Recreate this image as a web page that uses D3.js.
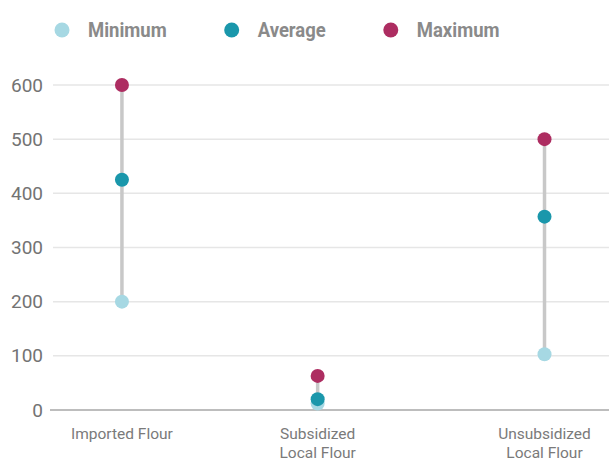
<!DOCTYPE html>
<meta charset="utf-8">
<script src="https://d3js.org/d3.v7.min.js"></script>
<style>
body { margin: 0; background: #fff; }
svg text { font-family: Roboto, "Noto Sans", sans-serif; }
.axis .domain, .axis line { display: none; }
</style>
<body>
<div id="canvas"></div>
<script>

// data -------------------------------------------------
var categories = ["Imported Flour", "Subsidized\nLocal Flour", "Unsubsidized\nLocal Flour"];
var minimum = [200, 12, 103];
var average = [425, 20, 357];
var maximum = [600, 63, 500];
var yTicks = [0, 100, 200, 300, 400, 500, 600];
var seriesNames = ["Minimum", "Average", "Maximum"];
var seriesColors = ["#a6d8e3", "#1a97ab", "#ad2d61"];

var width = 609, height = 462;
var margin = {top: 85, right: 0, bottom: 52, left: 53};
var w = width - margin.left - margin.right;
var h = height - margin.top - margin.bottom;

var svg = d3.select("#canvas").append("svg")
    .attr("width", width)
    .attr("height", height);

var g = svg.append("g")
    .attr("transform", "translate(" + margin.left + "," + margin.top + ")");

// scales
var y = d3.scaleLinear().domain([0, 600]).range([h, 0]);
// the category columns are not evenly spaced in the original
var x = d3.scaleOrdinal()
    .domain(categories)
    .range([0.124, 0.476, 0.884].map(function(f) { return f * w; }));
var color = d3.scaleOrdinal().domain(seriesNames).range(seriesColors);

// grid lines
g.selectAll(".grid")
    .data(yTicks.filter(function(d) { return d > 0; }))
    .enter().append("line")
    .attr("x1", 0).attr("x2", w)
    .attr("y1", function(d) { return y(d); })
    .attr("y2", function(d) { return y(d); })
    .attr("stroke", "#e6e6e6")
    .attr("stroke-width", 1.5);

// base line
g.append("line")
    .attr("x1", -3).attr("x2", w)
    .attr("y1", y(0)).attr("y2", y(0))
    .attr("stroke", "#bdbdbd")
    .attr("stroke-width", 2);

// y axis
var yAxis = g.append("g")
    .attr("class", "axis")
    .attr("transform", "translate(-10,0)")
    .call(d3.axisLeft(y).tickValues(yTicks).tickSize(0).tickPadding(0));
yAxis.selectAll("text")
    .style("font-size", "19px")
    .attr("fill", "#737373");

// x labels
var xl = g.selectAll(".xlabel")
    .data(categories)
    .enter().append("text")
    .attr("class", "xlabel")
    .attr("text-anchor", "middle")
    .attr("y", h + 29)
    .style("font-size", "15.5px")
    .attr("fill", "#7a7a7a");
xl.selectAll("tspan")
    .data(function(d) { return d.split("\n").map(function(t) { return {t: t, c: d}; }); })
    .enter().append("tspan")
    .attr("x", function(d) { return x(d.c); })
    .attr("dy", function(d, i) { return i ? 18.5 : 0; })
    .text(function(d) { return d.t; });

// rows
var rows = categories.map(function(c, i) {
    return {cat: c, Minimum: minimum[i], Average: average[i], Maximum: maximum[i]};
});

var col = g.selectAll(".col")
    .data(rows)
    .enter().append("g")
    .attr("class", "col");

col.append("line")
    .attr("x1", function(d) { return x(d.cat); })
    .attr("x2", function(d) { return x(d.cat); })
    .attr("y1", function(d) { return y(d.Minimum); })
    .attr("y2", function(d) { return y(d.Maximum); })
    .attr("stroke", "#c8c8c8")
    .attr("stroke-width", 3.5);

col.selectAll("circle")
    .data(function(d) { return seriesNames.map(function(s) { return {cat: d.cat, s: s, v: d[s]}; }); })
    .enter().append("circle")
    .attr("cx", function(d) { return x(d.cat); })
    .attr("cy", function(d) { return y(d.v); })
    .attr("r", 7)
    .attr("fill", function(d) { return color(d.s); });

// legend (original font is condensed, so squeeze Roboto a bit)
var lx = 62;
seriesNames.forEach(function(s) {
    svg.append("circle")
        .attr("cx", lx).attr("cy", 30).attr("r", 7.5)
        .attr("fill", color(s));
    var t = svg.append("text")
        .attr("x", lx + 26).attr("y", 30)
        .attr("dy", "0.35em")
        .style("font-size", "21px")
        .style("font-weight", "bold")
        .attr("fill", "#8a8a8a")
        .text(s);
    var tw = t.node().getComputedTextLength() * 0.88;
    t.attr("textLength", tw).attr("lengthAdjust", "spacingAndGlyphs");
    lx = lx + 26 + tw + 65;
});

</script>
</body>
